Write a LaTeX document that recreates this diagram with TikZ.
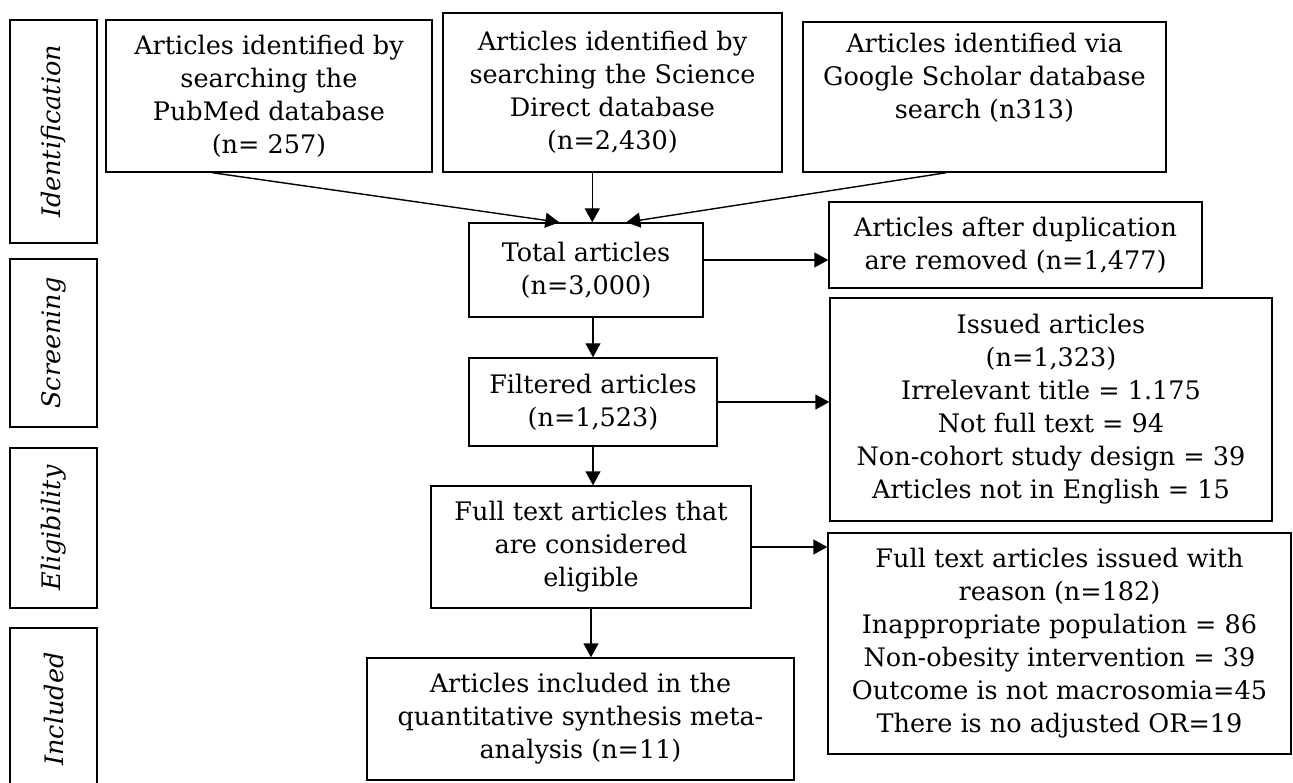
\documentclass[tikz,border=0pt]{standalone}
\usepackage{fontspec}
\setmainfont{DejaVu Serif}
\usetikzlibrary{arrows.meta,calc}
\begin{document}
\begin{tikzpicture}[x=1pt,y=-1pt,
  box/.style={draw,line width=1.4pt,inner sep=0pt,align=center,font=\fontsize{25.5}{33}\selectfont},
  phase/.style={draw,line width=1.4pt,rotate=90,inner sep=0pt,minimum height=87pt,font=\fontsize{25.5}{33}\selectfont\itshape},
  arr/.style={line width=1.4pt,-{Triangle[length=14pt,width=15pt]}}]
\useasboundingbox (0,0) rectangle (1293,783);
% phase labels
\node[phase,minimum width=223pt] (pid) at (53.5,131.5) {Identification};
\node[phase,minimum width=168pt] (pscr) at (53.5,343) {Screening};
\node[phase,minimum width=160pt] (pel) at (53.5,528) {Eligibility};
\node[phase,minimum width=162pt] (pinc) at (53.5,709) {Included};
% boxes
\node[box,minimum width=326pt,minimum height=152pt] (pub) at (269,96) {Articles identified by\\searching the\\PubMed database\\(n= 257)};
\node[box,minimum width=339pt,minimum height=159pt] (sd) at (612.5,92.5) {Articles identified by\\searching the Science\\Direct database\\(n=2,430)};
\node[box,minimum width=363pt,minimum height=150pt] (gs) at (984.5,97) {Articles identified via\\Google Scholar database\\search (n313)\\\strut};
\node[box,minimum width=234pt,minimum height=94pt] (tot) at (586,270) {Total articles\\(n=3,000)};
\node[box,minimum width=373pt,minimum height=86pt] (dup) at (1015.5,245) {Articles after duplication\\are removed (n=1,477)};
\node[box,minimum width=248pt,minimum height=88pt] (fil) at (593,402) {Filtered articles\\(n=1,523)};
\node[box,minimum width=442pt,minimum height=223pt] (iss) at (1051,409.5) {Issued articles\\(n=1,323)\\Irrelevant title = 1.175\\Not full text = 94\\Non-cohort study design = 39\\Articles not in English = 15};
\node[box,minimum width=320pt,minimum height=122pt] (full) at (591,547) {Full text articles that\\are considered\\eligible};
\node[box,minimum width=463pt,minimum height=221pt] (rea) at (1059.5,643.5) {Full text articles issued with\\reason (n=182)\\Inappropriate population = 86\\Non-obesity intervention = 39\\Outcome is not macrosomia=45\\There is no adjusted OR=19};
\node[box,minimum width=427pt,minimum height=122pt] (inc) at (580.5,719) {Articles included in the\\quantitative synthesis meta-\\analysis (n=11)};
% connectors
\draw[arr] ([xshift=107pt]pub.south west) -- ([xshift=91pt]tot.north west);
\draw[arr] ([xshift=150pt]sd.south west) -- ([xshift=124pt]tot.north west);
\draw[arr] ([xshift=144pt]gs.south west) -- ([xshift=158pt]tot.north west);
\draw[arr] ([yshift=10pt]tot.east) -- ([yshift=10pt]tot.east -| dup.west);
\draw[arr] (tot.south -| fil.north) -- (fil.north);
\draw[arr] (fil.east) -- (fil.east -| iss.west);
\draw[arr] (fil.south) -- (fil.south |- full.north);
\draw[arr] (full.east) -- (full.east -| rea.west);
\draw[arr] (full.south) -- (full.south |- inc.north);
\end{tikzpicture}
\end{document}
